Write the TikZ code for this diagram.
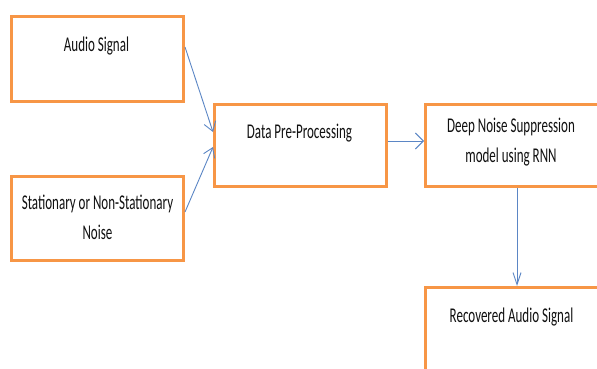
\documentclass[tikz,border=0pt]{standalone}
\usepackage{fontspec}
\setmainfont[FakeStretch=0.62]{Carlito}
\usetikzlibrary{arrows.meta,calc}
\definecolor{boxorange}{HTML}{F79646}
\definecolor{arrowblue}{HTML}{5B86C5}
\definecolor{txt}{HTML}{111111}
\begin{document}
\begin{tikzpicture}[x=1pt,y=1pt,
  stagebox/.style={draw=boxorange,line width=3pt,fill=white,minimum width=172pt,inner sep=0pt},
  lbl/.style={text=txt,font=\fontsize{21}{30}\selectfont,align=center,inner sep=0pt},
  conn/.style={draw=arrowblue,line width=0.9pt}]
\useasboundingbox (0,0) rectangle (597,368);
\clip (0,0) rectangle (597,368);
\fill[white] (0,0) rectangle (597,368);
\node[stagebox,minimum height=85pt] (audio) at (97.5,309) {};
\node[stagebox,minimum height=84pt] (noise) at (97.5,149.5) {};
\node[stagebox,minimum height=82pt] (data) at (300.5,222.5) {};
\node[stagebox,minimum height=82pt,minimum width=182pt] (deep) at (516.5,222.5) {};
\node[stagebox,minimum height=85pt,minimum width=182pt] (rec) at (516.5,38) {};
\node[lbl] (audiotxt) at (96.5,322) {Audio Signal};
\node[lbl] (noisetxt) at (97.5,151) {Stationary or Non-Stationary\\Noise};
\node[lbl] (datatxt) at (299.5,235) {Data Pre-Processing};
\node[lbl] (deeptxt) at (511,225.5) {Deep Noise Suppression\\model using RNN};
\node[lbl] (rectxt) at (511.5,51) {Recovered Audio Signal};
\draw[conn,-{Straight Barb[length=9pt,width=12pt]}] ($(audio.east)+(0,12)$) -- ($(data.west)+(0,13.5)$);
\draw[conn,-{Straight Barb[length=9pt,width=12pt]}] ($(noise.east)+(0,6.5)$) -- ($(data.west)+(0,-1.5)$);
\draw[conn,-{Straight Barb[length=8pt,width=16pt]}] ($(data.east)+(0,4.5)$) -- ($(deep.west)+(0,4.5)$);
\draw[conn,-{Straight Barb[length=12pt,width=8pt]}] ($(deep.south)+(0.5,0)$) -- ($(rec.north)+(0.5,0)$);
\end{tikzpicture}
\end{document}
